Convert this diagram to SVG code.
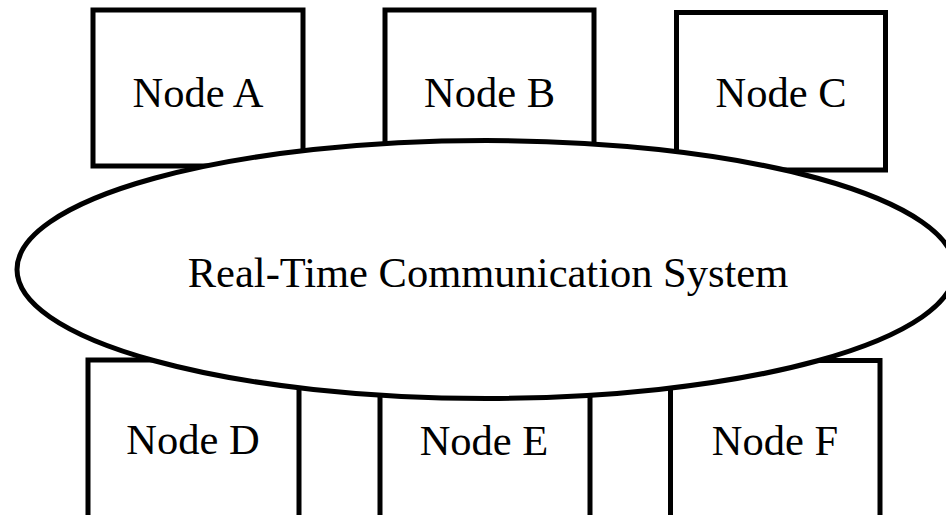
<svg xmlns="http://www.w3.org/2000/svg" width="946" height="515" viewBox="0 0 946 515">
  <style>
    .box { fill: #ffffff; stroke: #000000; stroke-width: 5; }
    .hub { fill: #ffffff; stroke: #000000; stroke-width: 5; }
    .label { font-family: "Liberation Serif", "Times New Roman", serif; font-size: 42.5px; fill: #000000; text-anchor: middle; }
  </style>
  <rect width="946" height="515" fill="#ffffff"/>

  <!-- top row -->
  <g id="node-a">
    <rect class="box" x="93" y="10" width="210" height="156"/>
    <text class="label" x="198" y="107">Node A</text>
  </g>
  <g id="node-b">
    <rect class="box" x="385" y="10" width="209" height="156"/>
    <text class="label" x="489.5" y="107">Node B</text>
  </g>
  <g id="node-c">
    <rect class="box" x="676.5" y="12.5" width="209" height="157.5"/>
    <text class="label" x="781" y="107">Node C</text>
  </g>

  <!-- bottom row -->
  <g id="node-d">
    <rect class="box" x="88" y="360" width="211" height="170"/>
    <text class="label" x="193" y="454">Node D</text>
  </g>
  <g id="node-e">
    <rect class="box" x="380" y="360" width="210" height="170"/>
    <text class="label" x="484" y="455">Node E</text>
  </g>
  <g id="node-f">
    <rect class="box" x="670.5" y="360.5" width="209.5" height="170"/>
    <text class="label" x="775" y="455">Node F</text>
  </g>

  <!-- central hub drawn over the nodes -->
  <g id="hub">
    <ellipse class="hub" cx="486" cy="269.5" rx="469" ry="129"/>
    <text class="label" x="488" y="287">Real-Time Communication System</text>
  </g>
</svg>
